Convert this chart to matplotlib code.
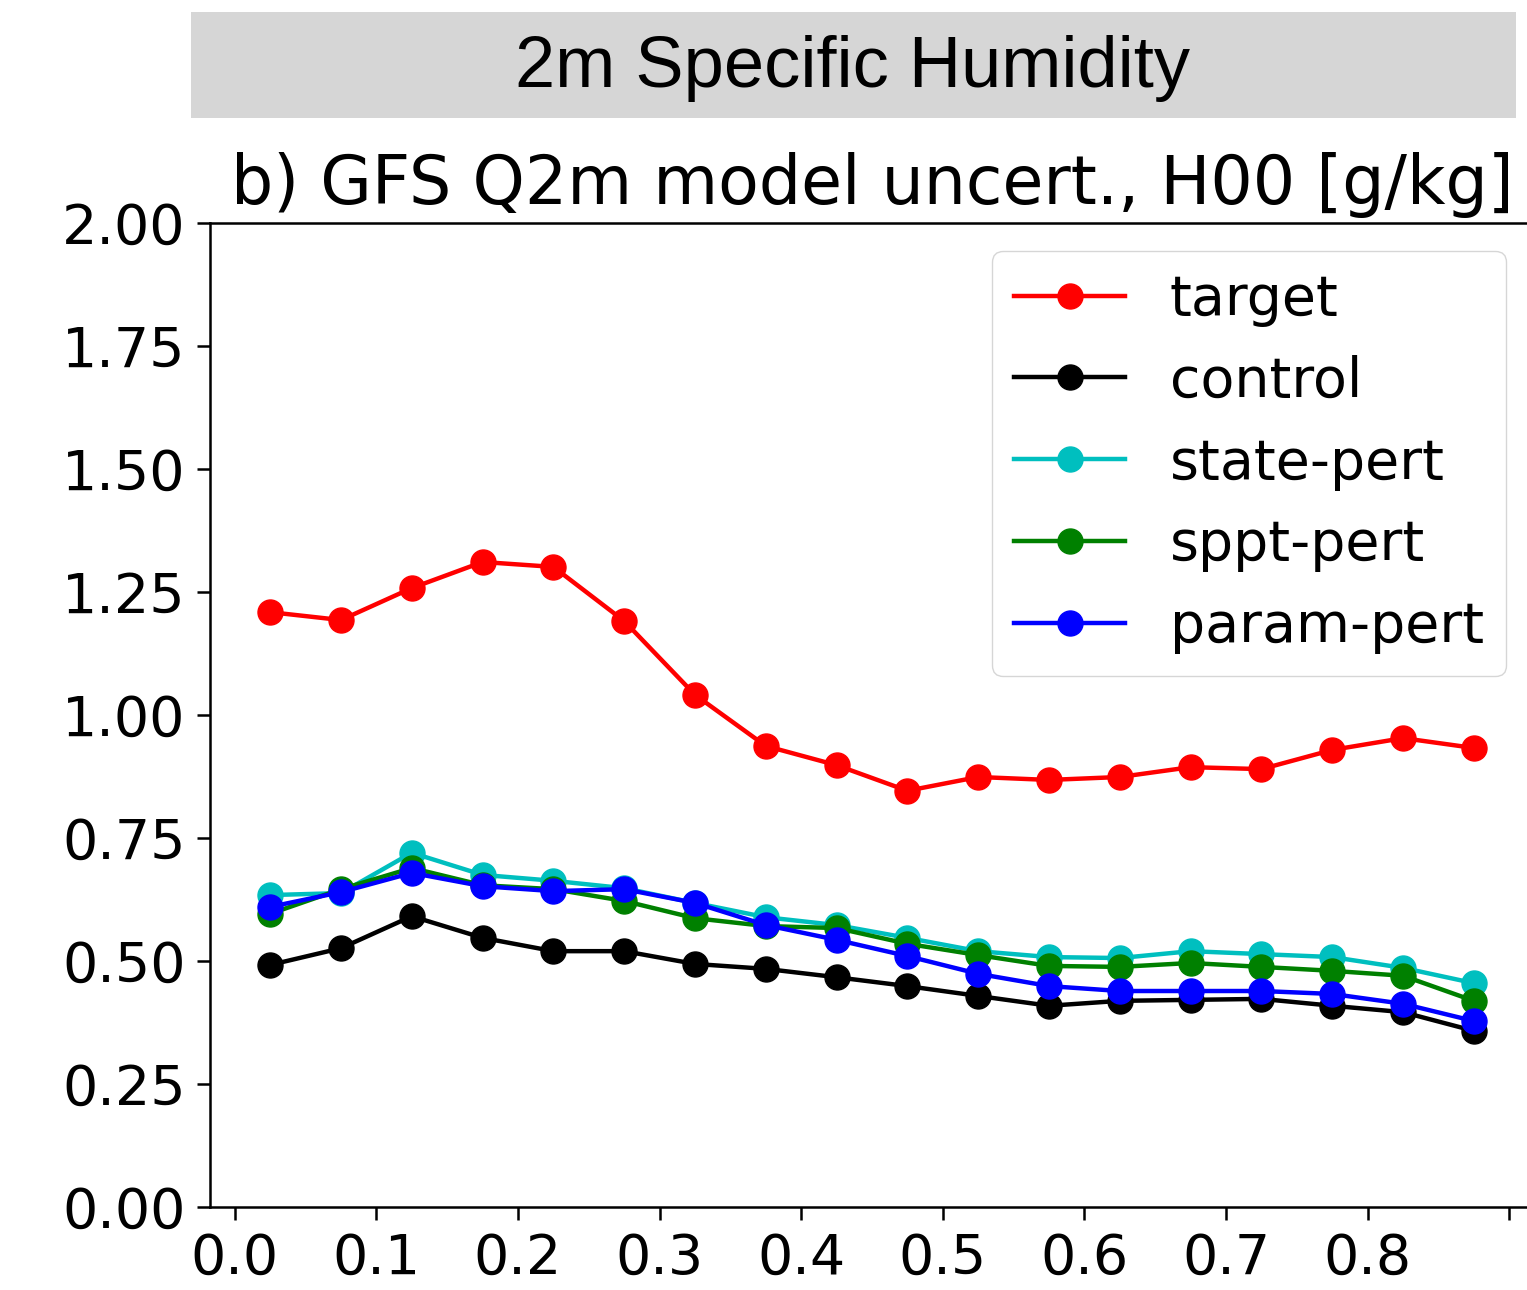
import numpy as np
import matplotlib
matplotlib.use('Agg')
import matplotlib.pyplot as plt
from matplotlib.patches import Rectangle

# bin centres and spread values [g/kg]
x = np.arange(0.025, 0.9, 0.05)
target = [1.209, 1.193, 1.258, 1.311, 1.301, 1.191, 1.041, 0.937, 0.898,
          0.846, 0.874, 0.868, 0.874, 0.894, 0.890, 0.929, 0.953, 0.933]
control = [0.492, 0.526, 0.591, 0.547, 0.520, 0.520, 0.494, 0.484, 0.467,
           0.449, 0.429, 0.409, 0.419, 0.421, 0.423, 0.409, 0.396, 0.358]
state_pert = [0.634, 0.638, 0.720, 0.675, 0.663, 0.648, 0.618, 0.589, 0.573,
              0.547, 0.520, 0.508, 0.506, 0.520, 0.514, 0.508, 0.486, 0.455]
sppt_pert = [0.596, 0.646, 0.689, 0.654, 0.646, 0.622, 0.587, 0.571, 0.567,
             0.535, 0.512, 0.490, 0.488, 0.496, 0.488, 0.480, 0.470, 0.419]
param_pert = [0.610, 0.640, 0.679, 0.652, 0.642, 0.646, 0.618, 0.573, 0.543,
              0.510, 0.474, 0.449, 0.439, 0.439, 0.439, 0.433, 0.413, 0.378]

series = [('target', target, 'r'), ('control', control, 'k'),
          ('state-pert', state_pert, 'c'), ('sppt-pert', sppt_pert, 'g'),
          ('param-pert', param_pert, 'b')]

W, H = 1527, 1290
fig = plt.figure(figsize=(W / 100, H / 100), dpi=100)

# grey header band
fig.patches.append(Rectangle((191 / W, 1 - 118 / H), (1516 - 191) / W, 106 / H,
                             transform=fig.transFigure, facecolor='#d6d6d6',
                             edgecolor='none'))
fig.text(853 / W, 1 - 69 / H, '2m Specific Humidity', ha='center', va='center',
         fontsize=52, family='Liberation Sans')

ax = fig.add_axes([210 / W, 1 - 1207 / H, (1534 - 210) / W, (1207 - 223) / H])
for name, vals, col in series:
    ax.plot(x, vals, '-o', color=col, label=name, lw=3.2, ms=18)

ax.set_ylim(0, 2)
ax.set_yticks(np.arange(0, 2.01, 0.25))
ax.set_yticklabels(['%.2f' % v for v in np.arange(0, 2.01, 0.25)])
ax.set_xticks(np.arange(0, 0.91, 0.1))
ax.set_xticklabels(['%.1f' % v for v in np.arange(0, 0.81, 0.1)] + [''])
ax.tick_params(labelsize=40, length=9.5, width=1.8, pad=8)
for sp in ax.spines.values():
    sp.set_linewidth(1.8)

ax.set_title('b) GFS Q2m model uncert., H00 [g/kg]', fontsize=48, pad=14)
ax.legend(fontsize=40, loc='upper right')

fig.savefig('out.png', dpi=100)
